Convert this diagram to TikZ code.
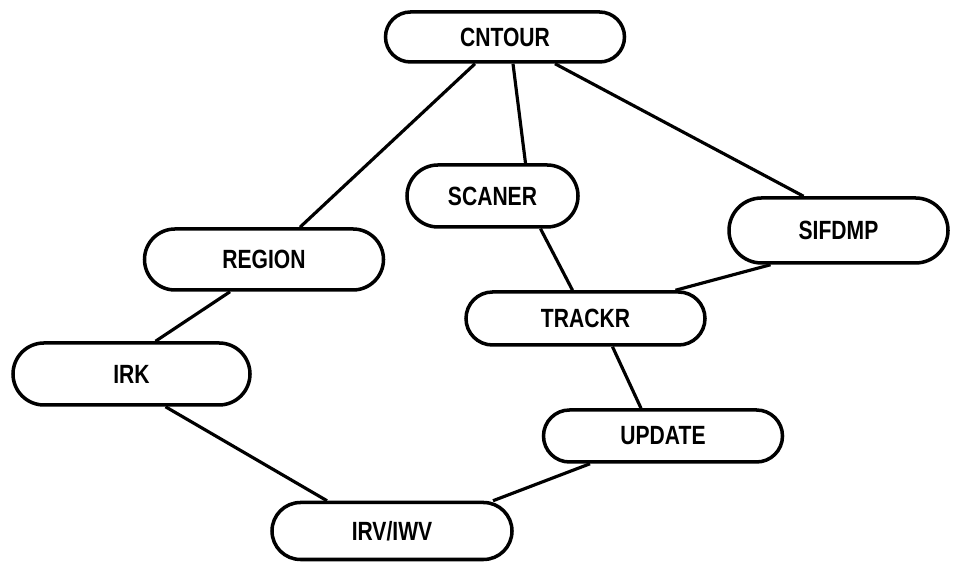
\documentclass[tikz,border=0pt]{standalone}
\usepackage{fontspec}
\newfontfamily\plotfont{Liberation Sans}[FakeStretch=0.8]
\usepackage{tikz}
\usetikzlibrary{
    positioning,
    shapes.misc,
}
\tikzset{
    % Basic node styles
    routine/.style={rounded rectangle, draw, line width=2pt, inner sep=0pt,
                    minimum width=4.78cm, minimum height=1.1cm,
                    font=\plotfont\bfseries\fontsize{15}{17}\selectfont},
    % Connector styles
    call/.style={line width=1.8pt},
}

\begin{document}
\begin{tikzpicture}[
    short/.style={routine, minimum width=3.42cm, minimum height=1.24cm},
]
    \useasboundingbox (0,0) rectangle (19.08,11.24);

    % Top level
    \node[routine, minimum height=1.0cm] (cntour) at (10.10, 10.50) {CNTOUR};

    % Second level
    \node[short] (scaner) at (9.85, 7.32) {SCANER};
    \node[routine, minimum width=4.38cm, minimum height=1.3cm] (sifdmp) at (16.77, 6.63) {SIFDMP};
    \node[routine, minimum height=1.22cm] (region) at (5.28, 6.05) {REGION};

    % Lower levels
    \node[routine, minimum width=4.74cm, minimum height=1.24cm] (irk) at (2.63, 3.76) {IRK};
    \node[routine, minimum height=1.06cm] (trackr) at (11.71, 4.87) {TRACKR};
    \node[routine, minimum height=1.04cm] (update) at (13.26, 2.52) {UPDATE};
    \node[routine, minimum width=4.8cm, minimum height=1.14cm] (irvw) at (7.84, 0.62) {IRV/IWV};

    % Calls
    \foreach \a/\da/\b/\db in {cntour/-0.6/region/0.72, cntour/0.16/scaner/0.66,
                               cntour/1.0/sifdmp/-0.7, scaner/0.96/trackr/-0.26,
                               sifdmp/-1.36/trackr/1.8, region/-0.68/irk/0.48,
                               irk/0.68/irvw/-1.3, trackr/0.54/update/-0.44,
                               update/-1.46/irvw/2.02} {
        \draw[call] ([xshift=\da cm]\a.south) -- ([xshift=\db cm]\b.north);
    }
\end{tikzpicture}
\end{document}
